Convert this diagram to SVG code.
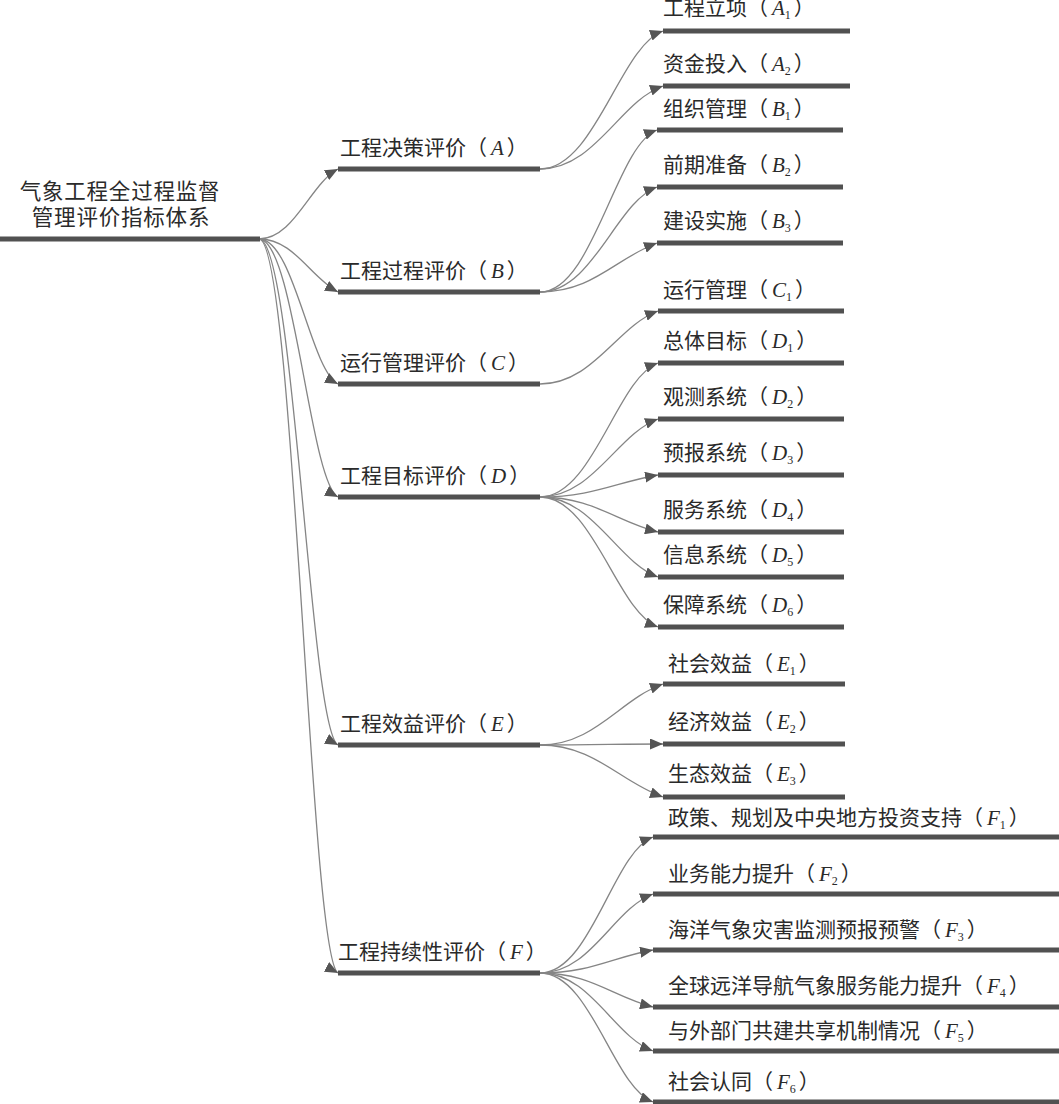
<svg xmlns="http://www.w3.org/2000/svg" width="1059" height="1104" viewBox="0 0 1059 1104">
<defs>
<style>
.t{font-family:"Noto Sans CJK SC","Noto Sans",sans-serif;font-size:21px;fill:#2a2a2a}
.v{font-family:"Liberation Serif",serif;font-style:italic}
.s{font-family:"Liberation Serif",serif;font-size:12px}
.bar{fill:#515151}
.c{fill:none;stroke:#858585;stroke-width:1.3;marker-end:url(#ah)}
</style>
<marker id="ah" viewBox="0 0 13 11" refX="13" refY="5.5" markerUnits="userSpaceOnUse" markerWidth="13" markerHeight="11" orient="auto">
<path d="M0,0 L13,5.5 L0,11 z" fill="#555"/>
</marker>
</defs>
<rect width="1059" height="1104" fill="#fff"/>
<g id="connectors">
<path class="c" d="M259,239 C294,239 310,184 338,169"/>
<path class="c" d="M259,239 C294,239 310,277 338,292"/>
<path class="c" d="M259,239 C294,239 310,369 338,384"/>
<path class="c" d="M259,239 C294,239 310,482 338,497"/>
<path class="c" d="M259,239 C294,239 310,730 338,745"/>
<path class="c" d="M259,239 C294,239 310,958 338,973"/>
<path class="c" d="M540,169 C595,169 620,46 663,31"/>
<path class="c" d="M540,169 C595,169 620,101 663,86"/>
<path class="c" d="M540,292 C593,292 616,145 657,130"/>
<path class="c" d="M540,292 C593,292 616,202 657,187"/>
<path class="c" d="M540,292 C593,292 616,258 657,243"/>
<path class="c" d="M540,384 C593,384 617,326 658,311"/>
<path class="c" d="M540,497 C593,497 617,378 658,363"/>
<path class="c" d="M540,497 C593,497 617,434 658,419"/>
<path class="c" d="M540,497 C593,497 617,482 658,475"/>
<path class="c" d="M540,497 C593,497 617,522 658,532"/>
<path class="c" d="M540,497 C593,497 617,562 658,577"/>
<path class="c" d="M540,497 C593,497 617,612 658,627"/>
<path class="c" d="M540,745 C595,745 620,699 663,684"/>
<path class="c" d="M540,745 C595,745 620,744 663,744"/>
<path class="c" d="M540,745 C595,745 620,782 663,797"/>
<path class="c" d="M540,973 C591,973 613,852 653,837"/>
<path class="c" d="M540,973 C591,973 613,909 653,894"/>
<path class="c" d="M540,973 C591,973 613,957 653,950"/>
<path class="c" d="M540,973 C591,973 613,997 653,1007"/>
<path class="c" d="M540,973 C591,973 613,1036 653,1051"/>
<path class="c" d="M540,973 C591,973 613,1087 653,1102"/>
</g>
<g id="root">
<rect class="bar" x="0" y="236.5" width="260" height="5"/>
<text class="t" x="120" y="199" text-anchor="middle" letter-spacing="0.8" style="font-size:21.5px">气象工程全过程监督</text>
<text class="t" x="121" y="225" text-anchor="middle" letter-spacing="0.8" style="font-size:21.5px">管理评价指标体系</text>
</g>
<g id="A">
<rect class="bar" x="338" y="166.5" width="202" height="5"/>
<text class="t" x="340" y="155">工程决策评价（<tspan class="v" dx="4">A</tspan><tspan dx="3">）</tspan></text>
</g>
<g id="B">
<rect class="bar" x="338" y="289.5" width="202" height="5"/>
<text class="t" x="340" y="278">工程过程评价（<tspan class="v" dx="4">B</tspan><tspan dx="3">）</tspan></text>
</g>
<g id="C">
<rect class="bar" x="338" y="381.5" width="202" height="5"/>
<text class="t" x="340" y="370">运行管理评价（<tspan class="v" dx="4">C</tspan><tspan dx="3">）</tspan></text>
</g>
<g id="D">
<rect class="bar" x="338" y="494.5" width="202" height="5"/>
<text class="t" x="340" y="483">工程目标评价（<tspan class="v" dx="4">D</tspan><tspan dx="3">）</tspan></text>
</g>
<g id="E">
<rect class="bar" x="338" y="742.5" width="202" height="5"/>
<text class="t" x="340" y="731">工程效益评价（<tspan class="v" dx="4">E</tspan><tspan dx="3">）</tspan></text>
</g>
<g id="F">
<rect class="bar" x="338" y="970.5" width="202" height="5"/>
<text class="t" x="338" y="959">工程持续性评价（<tspan class="v" dx="4">F</tspan><tspan dx="3">）</tspan></text>
</g>
<g id="A1">
<rect class="bar" x="663" y="28.5" width="187" height="5"/>
<text class="t" x="663" y="15">工程立项（<tspan class="v" dx="4">A</tspan><tspan class="s" dy="4">1</tspan><tspan dx="3" dy="-4">）</tspan></text>
</g>
<g id="A2">
<rect class="bar" x="663" y="83.5" width="187" height="5"/>
<text class="t" x="663" y="71">资金投入（<tspan class="v" dx="4">A</tspan><tspan class="s" dy="4">2</tspan><tspan dx="3" dy="-4">）</tspan></text>
</g>
<g id="B1">
<rect class="bar" x="657" y="127.5" width="186" height="5"/>
<text class="t" x="663" y="116">组织管理（<tspan class="v" dx="4">B</tspan><tspan class="s" dy="4">1</tspan><tspan dx="3" dy="-4">）</tspan></text>
</g>
<g id="B2">
<rect class="bar" x="657" y="184.5" width="186" height="5"/>
<text class="t" x="663" y="172">前期准备（<tspan class="v" dx="4">B</tspan><tspan class="s" dy="4">2</tspan><tspan dx="3" dy="-4">）</tspan></text>
</g>
<g id="B3">
<rect class="bar" x="657" y="240.5" width="186" height="5"/>
<text class="t" x="663" y="228">建设实施（<tspan class="v" dx="4">B</tspan><tspan class="s" dy="4">3</tspan><tspan dx="3" dy="-4">）</tspan></text>
</g>
<g id="C1">
<rect class="bar" x="658" y="308.5" width="186" height="5"/>
<text class="t" x="663" y="297">运行管理（<tspan class="v" dx="4">C</tspan><tspan class="s" dy="4">1</tspan><tspan dx="3" dy="-4">）</tspan></text>
</g>
<g id="D1">
<rect class="bar" x="658" y="360.5" width="186" height="5"/>
<text class="t" x="663" y="348">总体目标（<tspan class="v" dx="4">D</tspan><tspan class="s" dy="4">1</tspan><tspan dx="3" dy="-4">）</tspan></text>
</g>
<g id="D2">
<rect class="bar" x="658" y="416.5" width="186" height="5"/>
<text class="t" x="663" y="404">观测系统（<tspan class="v" dx="4">D</tspan><tspan class="s" dy="4">2</tspan><tspan dx="3" dy="-4">）</tspan></text>
</g>
<g id="D3">
<rect class="bar" x="658" y="472.5" width="186" height="5"/>
<text class="t" x="663" y="460">预报系统（<tspan class="v" dx="4">D</tspan><tspan class="s" dy="4">3</tspan><tspan dx="3" dy="-4">）</tspan></text>
</g>
<g id="D4">
<rect class="bar" x="658" y="529.5" width="186" height="5"/>
<text class="t" x="663" y="517">服务系统（<tspan class="v" dx="4">D</tspan><tspan class="s" dy="4">4</tspan><tspan dx="3" dy="-4">）</tspan></text>
</g>
<g id="D5">
<rect class="bar" x="658" y="574.5" width="186" height="5"/>
<text class="t" x="663" y="562">信息系统（<tspan class="v" dx="4">D</tspan><tspan class="s" dy="4">5</tspan><tspan dx="3" dy="-4">）</tspan></text>
</g>
<g id="D6">
<rect class="bar" x="658" y="624.5" width="186" height="5"/>
<text class="t" x="663" y="612">保障系统（<tspan class="v" dx="4">D</tspan><tspan class="s" dy="4">6</tspan><tspan dx="3" dy="-4">）</tspan></text>
</g>
<g id="E1">
<rect class="bar" x="663" y="681.5" width="182" height="5"/>
<text class="t" x="668" y="671">社会效益（<tspan class="v" dx="4">E</tspan><tspan class="s" dy="4">1</tspan><tspan dx="3" dy="-4">）</tspan></text>
</g>
<g id="E2">
<rect class="bar" x="663" y="741.5" width="182" height="5"/>
<text class="t" x="668" y="729">经济效益（<tspan class="v" dx="4">E</tspan><tspan class="s" dy="4">2</tspan><tspan dx="3" dy="-4">）</tspan></text>
</g>
<g id="E3">
<rect class="bar" x="663" y="794.5" width="182" height="5"/>
<text class="t" x="668" y="781">生态效益（<tspan class="v" dx="4">E</tspan><tspan class="s" dy="4">3</tspan><tspan dx="3" dy="-4">）</tspan></text>
</g>
<g id="F1">
<rect class="bar" x="653" y="834.5" width="406" height="5"/>
<text class="t" x="668" y="825">政策、规划及中央地方投资支持（<tspan class="v" dx="4">F</tspan><tspan class="s" dy="4">1</tspan><tspan dx="3" dy="-4">）</tspan></text>
</g>
<g id="F2">
<rect class="bar" x="653" y="891.5" width="406" height="5"/>
<text class="t" x="668" y="881">业务能力提升（<tspan class="v" dx="4">F</tspan><tspan class="s" dy="4">2</tspan><tspan dx="3" dy="-4">）</tspan></text>
</g>
<g id="F3">
<rect class="bar" x="653" y="947.5" width="406" height="5"/>
<text class="t" x="668" y="937">海洋气象灾害监测预报预警（<tspan class="v" dx="4">F</tspan><tspan class="s" dy="4">3</tspan><tspan dx="3" dy="-4">）</tspan></text>
</g>
<g id="F4">
<rect class="bar" x="653" y="1004.5" width="406" height="5"/>
<text class="t" x="668" y="993">全球远洋导航气象服务能力提升（<tspan class="v" dx="4">F</tspan><tspan class="s" dy="4">4</tspan><tspan dx="3" dy="-4">）</tspan></text>
</g>
<g id="F5">
<rect class="bar" x="653" y="1048.5" width="406" height="5"/>
<text class="t" x="668" y="1038">与外部门共建共享机制情况（<tspan class="v" dx="4">F</tspan><tspan class="s" dy="4">5</tspan><tspan dx="3" dy="-4">）</tspan></text>
</g>
<g id="F6">
<rect class="bar" x="653" y="1099.5" width="406" height="5"/>
<text class="t" x="668" y="1089">社会认同（<tspan class="v" dx="4">F</tspan><tspan class="s" dy="4">6</tspan><tspan dx="3" dy="-4">）</tspan></text>
</g>
</svg>
